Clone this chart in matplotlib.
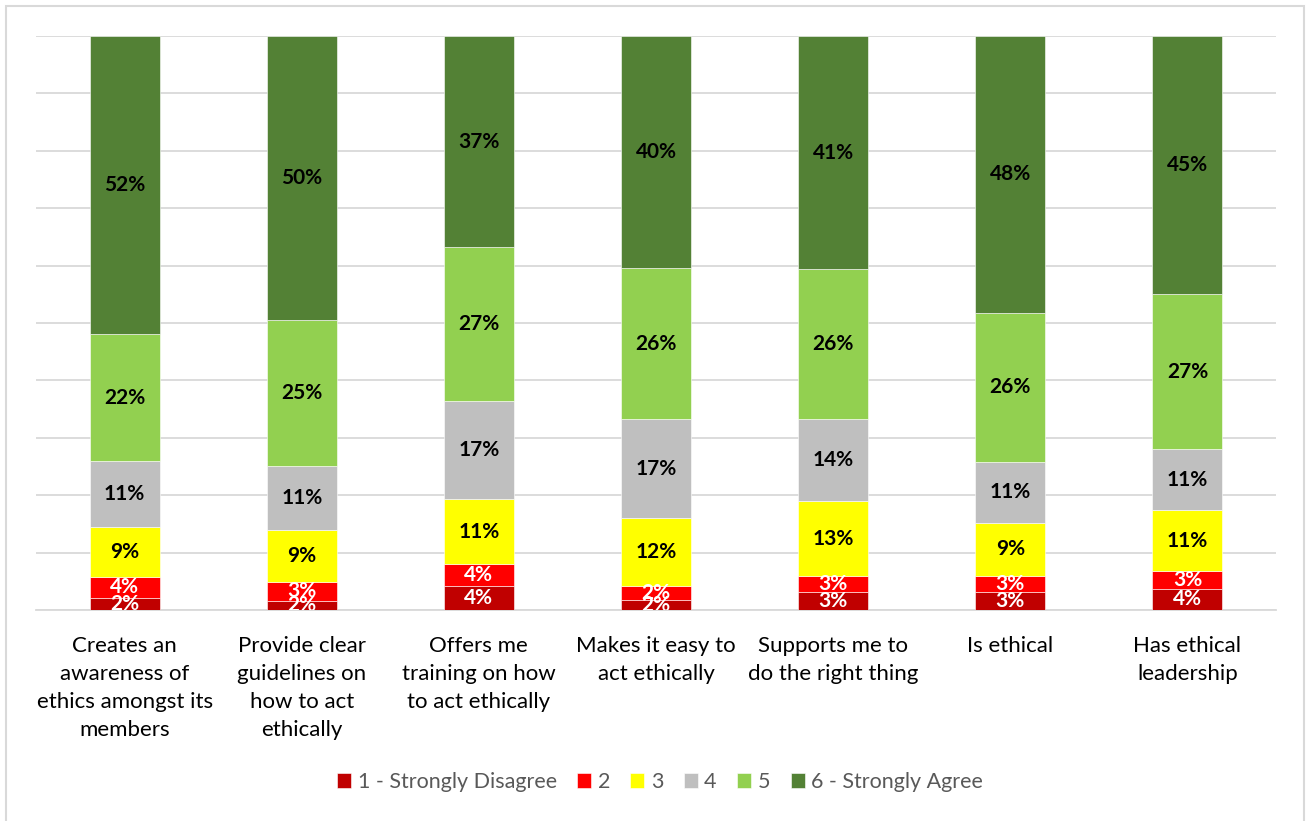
import matplotlib
matplotlib.use("Agg")
import matplotlib.pyplot as plt
from matplotlib.patches import Rectangle
import numpy as np

plt.rcParams['font.family'] = ['Lato', 'DejaVu Sans']

categories = [
    "Creates an\nawareness of\nethics amongst its\nmembers",
    "Provide clear\nguidelines on\nhow to act\nethically",
    "Offers me\ntraining on how\nto act ethically",
    "Makes it easy to\nact ethically",
    "Supports me to\ndo the right thing",
    "Is ethical",
    "Has ethical\nleadership",
]
series_names = ["1 - Strongly Disagree", "2", "3", "4", "5", "6 - Strongly Agree"]
s1 = [2.1, 1.6, 4.2, 1.7, 3.1, 3.1, 3.7]
s2 = [3.7, 3.3, 3.8, 2.4, 2.8, 2.8, 3.1]
s3 = [8.7, 9.1, 11.3, 12.0, 13.1, 9.3, 10.6]
s4 = [11.4, 11.1, 17.1, 17.1, 14.3, 10.6, 10.6]
s5 = [22.1, 25.4, 26.8, 26.4, 26.1, 26.0, 27.0]
s6 = [52.0, 49.5, 36.8, 40.4, 40.6, 48.2, 45.0]
series = [s1, s2, s3, s4, s5, s6]

colors = ["#C00000", "#FF0000", "#FFFF00", "#BFBFBF", "#92D050", "#538135"]
label_colors = ["white", "white", "black", "black", "black", "black"]

W, H = 1309, 821
fig = plt.figure(figsize=(W / 100, H / 100), dpi=100)
fig.patch.set_facecolor("white")
fig.add_artist(Rectangle((6 / W, -0.01), (1304 - 6) / W, (H - 6) / H + 0.01,
                         transform=fig.transFigure, fill=False,
                         edgecolor="#D9D9D9", linewidth=1.5))

ax = fig.add_axes([36 / W, (H - 610) / H, (1276 - 36) / W, (610 - 36) / H])
x = np.arange(len(categories))
bottom = np.zeros(len(categories))
handles = []
for vals, c, lc, name in zip(series, colors, label_colors, series_names):
    v = np.array(vals)
    bars = ax.bar(x, v, width=0.395, bottom=bottom, color=c, edgecolor="white",
                  linewidth=0.4, label=name, zorder=3)
    handles.append(bars)
    for xi, b, h in zip(x, bottom, v):
        t = ax.text(xi, b + h / 2, f"{h:.0f}%", ha="center", va="center",
                    color=lc, fontsize=15, fontweight="bold", zorder=4)
        t.set_clip_on(True)
    bottom = bottom + v

ax.set_xlim(-0.5, len(categories) - 0.5)
ax.set_ylim(0, 100)
ax.set_yticks(np.arange(0, 101, 10))
ax.yaxis.grid(True, color="#D9D9D9", linewidth=1.3, zorder=0)
ax.set_axisbelow(True)
ax.tick_params(axis="y", left=False, labelleft=False)
ax.tick_params(axis="x", length=0, pad=19)
ax.set_xticks(x)
ax.set_xticklabels(categories, fontsize=16, color="black", linespacing=1.5)
for s in ["top", "right", "left"]:
    ax.spines[s].set_visible(False)
ax.spines["bottom"].set_color("#D9D9D9")
ax.spines["bottom"].set_linewidth(1.3)

leg = fig.legend(handles=handles, labels=series_names, loc="center",
                 bbox_to_anchor=(660 / W, (H - 782) / H), ncol=6, frameon=False,
                 fontsize=15.5, handlelength=0.65, handleheight=0.65,
                 handletextpad=0.3, columnspacing=0.95)
for t in leg.get_texts():
    t.set_color("#595959")

fig.savefig("out.png", dpi=100)
